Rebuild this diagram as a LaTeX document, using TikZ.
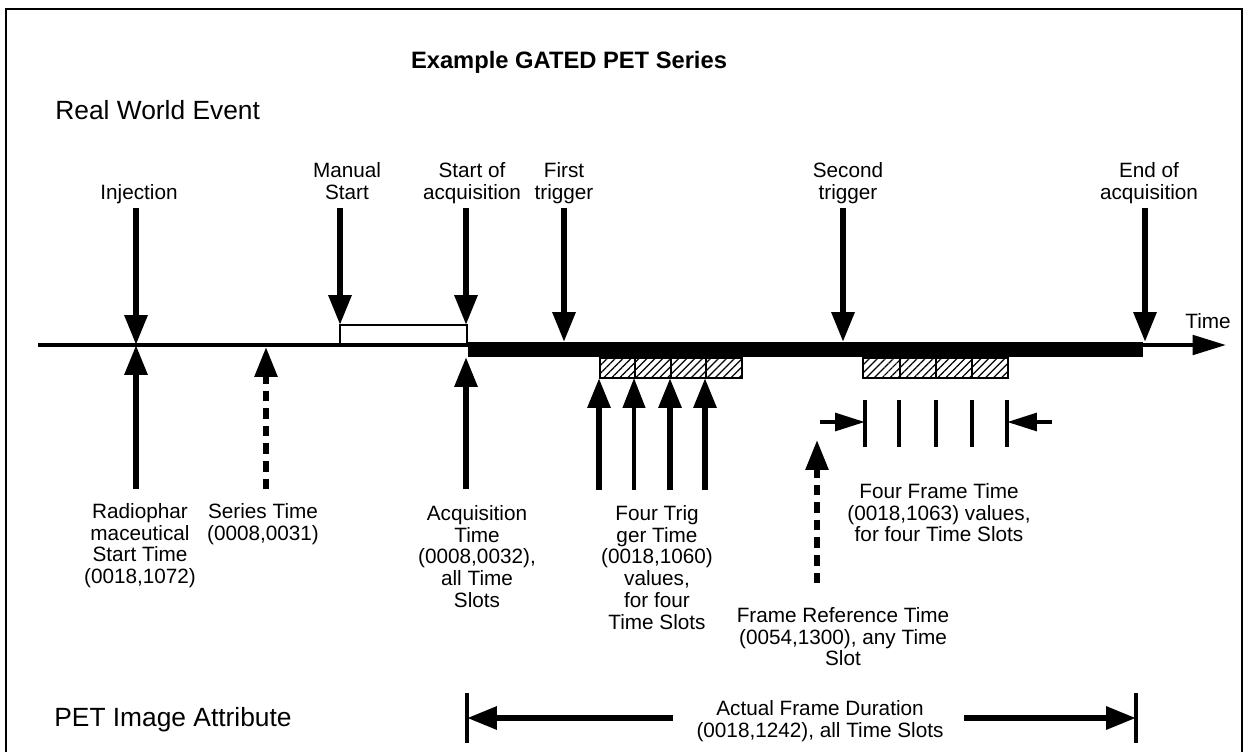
\documentclass[tikz,border=0pt]{standalone}
\usepackage{fontspec}
\setmainfont{Liberation Sans}
\setsansfont{Liberation Sans}
\usepackage{tikz}
\usetikzlibrary{arrows.meta, positioning, patterns.meta}
\tikzset{every node/.style={font=\sffamily}}

\begin{document}
\begin{tikzpicture}[
    x=0.02cm, y=-0.02cm,
    >={Triangle[length=17pt, width=12.5pt]},
    lbl/.style={font=\sffamily\fontsize{11.8}{12.4}\selectfont, align=center, inner sep=0pt,
      execute at begin node=\strut, execute at end node=\strut},
    heading/.style={font=\sffamily\fontsize{15}{18}\selectfont, inner sep=0pt, anchor=west},
    event/.style={->, line width=3.4pt},
    dasharrow/.style={->, line width=3.2pt, dash pattern=on 6pt off 4pt},
    slot/.style={draw, line width=1pt, pattern={Lines[angle=45, distance=3.2pt, line width=0.7pt]}},
    tickline/.style={line width=2pt},
  ]
  \useasboundingbox (0,0) rectangle (1246,751);
  \draw[line width=1.6pt] (6,760) -- (6,9) -- (1242,9) -- (1242,760);

  % headings
  \node[font=\sffamily\bfseries\fontsize{13.5}{16}\selectfont] (title) at (569,62) {Example GATED PET Series};
  \node[heading] (real) at (55,110) {Real World Event};
  \node[heading] (attr) at (54,720) {PET Image Attribute};

  % time axis
  \draw[line width=1.5pt, fill=white] (340,325) rectangle (467,345);
  \coordinate (axL) at (38,345);
  \coordinate (axR) at (1226,345);
  \draw[line width=2.3pt, -{Triangle[length=19pt, width=11pt]}] (axL) -- (axR);
  \node[lbl, anchor=south] (time) at (1208,335) {Time};
  \fill (468,342) rectangle (1143,357);

  % time slots
  \draw[slot] (600,358) rectangle (635,378) (635,358) rectangle (671,378)
              (671,358) rectangle (706,378) (706,358) rectangle (742,378);
  \draw[slot] (863,358) rectangle (900,378) (900,358) rectangle (936,378)
              (936,358) rectangle (972,378) (972,358) rectangle (1008,378);

  % events
  \coordinate (pInj) at (136,345);
  \coordinate (pMan) at (340,325);
  \coordinate (pAcq) at (466,325);
  \coordinate (pTr1) at (564,342);
  \coordinate (pTr2) at (843,342);
  \coordinate (pEnd) at (1145,342);
  \node[lbl, anchor=south] (inj) at (139,206) {Injection};
  \node[lbl, anchor=south] (man) at (347,206) {Manual\\Start};
  \node[lbl, anchor=south] (soa) at (472,206) {Start of\\acquisition};
  \node[lbl, anchor=south] (ft) at (564,206) {First\\trigger};
  \node[lbl, anchor=south] (st) at (848,206) {Second\\trigger};
  \node[lbl, anchor=south] (eoa) at (1149,206) {End of\\acquisition};
  \draw[event, shorten <=1pt] (inj.south -| pInj) -- (pInj);
  \draw[event, shorten <=1pt] (man.south -| pMan) -- (pMan);
  \draw[event, shorten <=1pt] (soa.south -| pAcq) -- (pAcq);
  \draw[event, shorten <=1pt] (ft.south -| pTr1) -- (pTr1);
  \draw[event, shorten <=1pt] (st.south -| pTr2) -- (pTr2);
  \draw[event, shorten <=1pt] (eoa.south -| pEnd) -- (pEnd);

  % attributes
  \coordinate (qInj) at (136,345);
  \coordinate (qSer) at (266,347);
  \coordinate (qAcq) at (466,357);
  \coordinate (s1) at (599,378);
  \coordinate (s2) at (634,378);
  \coordinate (s3) at (670,378);
  \coordinate (s4) at (705,378);
  \coordinate (qRef) at (817,440);
  \node[lbl, anchor=north] (rad) at (140,503) {Radiophar\\maceutical\\Start Time\\(0018,1072)};
  \node[lbl, anchor=north] (ser) at (263,503) {Series Time\\(0008,0031)};
  \node[lbl, anchor=north] (acq) at (477,505) {Acquisition\\Time\\(0008,0032),\\all Time\\Slots};
  \node[lbl, anchor=north] (trg) at (657,505) {Four Trig\\ger Time\\(0018,1060)\\values,\\for four\\Time Slots};
  \node[lbl, anchor=north] (ref) at (843,607) {Frame Reference Time\\(0054,1300), any Time\\Slot};
  \node[lbl, anchor=north] (fft) at (939,483) {Four Frame Time\\(0018,1063) values,\\ for four Time Slots};
  \draw[event, shorten <=7.9pt] (rad.north -| qInj) -- (qInj);
  \draw[dasharrow, shorten <=7.9pt] (ser.north -| qSer) -- (qSer);
  \draw[event, shorten <=9pt] (acq.north -| qAcq) -- (qAcq);
  \draw[event, shorten <=8.5pt] (trg.north -| s1) -- (s1);
  \draw[event, line width=2.4pt, shorten <=8.5pt] (trg.north -| s2) -- (s2);
  \draw[event, shorten <=8.5pt] (trg.north -| s3) -- (s3);
  \draw[event, shorten <=8.5pt] (trg.north -| s4) -- (s4);
  \draw[dasharrow, shorten <=13.6pt] (ref.north -| qRef) -- (qRef);

  % frame times
  \draw[tickline] (865,400) -- (865,447) (899,400) -- (899,447) (936,400) -- (936,447)
                  (972,400) -- (972,447) (1007,400) -- (1007,447);
  \coordinate (fL) at (820,422);
  \coordinate (fLt) at (865,422);
  \coordinate (fR) at (1052,422);
  \coordinate (fRt) at (1007,422);
  \draw[->, line width=2.3pt, >={Triangle[length=17pt, width=10pt]}] (fL) -- (fLt);
  \draw[->, line width=2.3pt, >={Triangle[length=17pt, width=10pt]}] (fR) -- (fRt);

  % frame duration
  \node[lbl] (dur) at (820,722) {Actual Frame Duration\\(0018,1242), all Time Slots};
  \draw[tickline, line width=2.2pt] (467,693) -- (467,743) (1136,693) -- (1136,743);
  \coordinate (barL) at (467,718);
  \coordinate (barR) at (1136,718);
  \coordinate (durL) at (673,718);
  \coordinate (durR) at (964,718);
  \draw[event] (durL) -- (barL);
  \draw[event] (durR) -- (barR);
\end{tikzpicture}
\end{document}
